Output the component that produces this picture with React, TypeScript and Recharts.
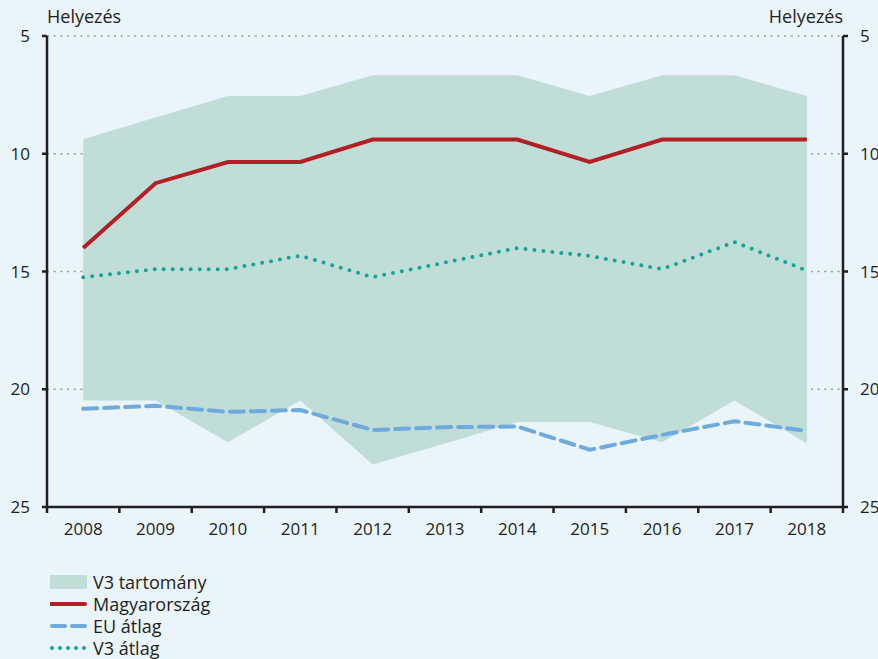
import React from 'react';
import { ComposedChart, Area, Line, XAxis, YAxis, CartesianGrid } from 'recharts';

const years = ['2008', '2009', '2010', '2011', '2012', '2013', '2014', '2015', '2016', '2017', '2018'];
const hungary = [14.0, 11.25, 10.35, 10.35, 9.4, 9.4, 9.4, 10.35, 9.4, 9.4, 9.4];
const euAvg = [20.83, 20.7, 20.96, 20.88, 21.73, 21.61, 21.58, 22.57, 21.94, 21.36, 21.77];
const v3Avg = [15.24, 14.9, 14.9, 14.33, 15.24, 14.62, 14.01, 14.34, 14.9, 13.75, 14.96];
const v3Best = [9.38, 8.46, 7.55, 7.55, 6.67, 6.67, 6.67, 7.55, 6.67, 6.67, 7.55];
const v3Worst = [20.48, 20.48, 22.25, 20.48, 23.2, 22.3, 21.39, 21.39, 22.25, 20.48, 22.3];
const yTicks = [5, 10, 15, 20, 25];
const axisTitle = 'Helyezés';
const legendLabels = ['V3 tartomány', 'Magyarország', 'EU átlag', 'V3 átlag'];

const data = years.map((y, i) => ({
  year: y,
  range: [v3Best[i], v3Worst[i]],
  hu: hungary[i],
  eu: euAvg[i],
  v3: v3Avg[i],
}));

const FONT = '"Open Sans", sans-serif';
const TEXT = '#231F20';
const AXIS = '#231F20';
const BG = '#EAF4FB';
const AREA = '#C1DDD8';
const RED = '#B22025';
const BLUE = '#6FAADC';
const TEAL = '#16A497';

const W = 878;
const H = 659;
const PLOT_LEFT = 47;
const PLOT_RIGHT = 843;
const HALF = (PLOT_RIGHT - PLOT_LEFT) / years.length / 2;

const XTick = (props: any) => {
  const { x, payload, index } = props;
  const last = index === years.length - 1;
  const ay = 507;
  return (
    <g>
      <line x1={x - HALF} x2={x - HALF} y1={ay - 1} y2={ay + 6} stroke={AXIS} strokeWidth={2.5} />
      {last && <line x1={x + HALF} x2={x + HALF} y1={ay - 1} y2={ay + 6} stroke={AXIS} strokeWidth={2.5} />}
      <text x={x} y={ay + 28} textAnchor="middle" fontSize={17} fontFamily={FONT} fill={TEXT}>
        {payload.value}
      </text>
    </g>
  );
};

// Left axis tick; the right axis shares the same scale so its tick and label are drawn here too.
const YTick = (props: any) => {
  const { y, payload } = props;
  return (
    <g>
      <line x1={PLOT_LEFT - 5} x2={PLOT_LEFT} y1={y} y2={y} stroke={AXIS} strokeWidth={2.5} />
      <text x={PLOT_LEFT - 17} y={y + 6} textAnchor="end" fontSize={17} fontFamily={FONT} fill={TEXT}>
        {payload.value}
      </text>
      <line x1={PLOT_RIGHT} x2={PLOT_RIGHT + 5} y1={y} y2={y} stroke={AXIS} strokeWidth={2.5} />
      <text x={PLOT_RIGHT + 17} y={y + 6} textAnchor="start" fontSize={17} fontFamily={FONT} fill={TEXT}>
        {payload.value}
      </text>
    </g>
  );
};

const LegendItem = ({ kind, label, top }: { kind: number; label: string; top: number }) => {
  let swatch: React.ReactNode;
  if (kind === 0) swatch = <rect x={0} y={2} width={37} height={14} fill={AREA} />;
  else if (kind === 1) swatch = <line x1={1} x2={35} y1={9} y2={9} stroke={RED} strokeWidth={4} strokeLinecap="round" />;
  else if (kind === 2)
    swatch = <line x1={2} x2={36} y1={9} y2={9} stroke={BLUE} strokeWidth={4} strokeLinecap="round" strokeDasharray="13 7" />;
  else
    swatch = <line x1={2} x2={36} y1={9} y2={9} stroke={TEAL} strokeWidth={4} strokeLinecap="round" strokeDasharray="0 8" />;
  return (
    <div style={{ position: 'absolute', left: 50, top, height: 18, display: 'flex', alignItems: 'center' }}>
      <svg width={38} height={18} style={{ display: 'block' }}>{swatch}</svg>
      <span style={{ marginLeft: 5, fontSize: 18, fontFamily: FONT, color: TEXT, lineHeight: '18px', whiteSpace: 'nowrap' }}>{label}</span>
    </div>
  );
};

export default function App() {
  return (
    <div style={{ position: 'absolute', left: 0, top: 0, width: W, height: H, background: BG, overflow: 'hidden' }}>
      <ComposedChart
        width={W}
        height={H}
        data={data}
        margin={{ top: 36, right: 0, bottom: 122, left: 0 }}
      >
        <CartesianGrid
          yAxisId="left"
          horizontal
          vertical={false}
          stroke="#9A9A9A"
          strokeWidth={1.5}
          strokeDasharray="2 4.7"
        />
        <XAxis
          dataKey="year"
          padding={{ left: HALF, right: HALF }}
          axisLine={{ stroke: AXIS, strokeWidth: 2.5 }}
          tickLine={false}
          tick={<XTick />}
          height={30}
          interval={0}
        />
        <YAxis
          yAxisId="left"
          orientation="left"
          reversed
          domain={[5, 25]}
          ticks={yTicks}
          width={PLOT_LEFT}
          axisLine={{ stroke: AXIS, strokeWidth: 2.5 }}
          tickLine={false}
          tick={<YTick />}
          interval={0}
        />
        <YAxis
          yAxisId="right"
          orientation="right"
          reversed
          domain={[5, 25]}
          ticks={yTicks}
          width={W - PLOT_RIGHT}
          axisLine={{ stroke: AXIS, strokeWidth: 2.5 }}
          tickLine={false}
          tick={false}
        />
        <Area
          yAxisId="left"
          dataKey="range"
          type="linear"
          stroke="none"
          fill={AREA}
          fillOpacity={1}
          isAnimationActive={false}
          activeDot={false}
          dot={false}
        />
        <Line
          yAxisId="left"
          dataKey="v3"
          type="linear"
          stroke={TEAL}
          strokeWidth={4}
          strokeLinecap="round"
          strokeDasharray="0 9"
          dot={false}
          activeDot={false}
          isAnimationActive={false}
        />
        <Line
          yAxisId="left"
          dataKey="eu"
          type="linear"
          stroke={BLUE}
          strokeWidth={4}
          strokeLinecap="round"
          strokeDasharray="14 7"
          dot={false}
          activeDot={false}
          isAnimationActive={false}
        />
        <Line
          yAxisId="left"
          dataKey="hu"
          type="linear"
          stroke={RED}
          strokeWidth={4}
          dot={false}
          activeDot={false}
          isAnimationActive={false}
        />
      </ComposedChart>
      <div style={{ position: 'absolute', left: 47, top: 6, fontSize: 18, fontFamily: FONT, color: TEXT, lineHeight: '20px' }}>
        {axisTitle}
      </div>
      <div style={{ position: 'absolute', right: W - 843, top: 6, fontSize: 18, fontFamily: FONT, color: TEXT, lineHeight: '20px' }}>
        {axisTitle}
      </div>
      {legendLabels.map((l, i) => (
        <LegendItem key={l} kind={i} label={l} top={572.5 + i * 22} />
      ))}
    </div>
  );
}
